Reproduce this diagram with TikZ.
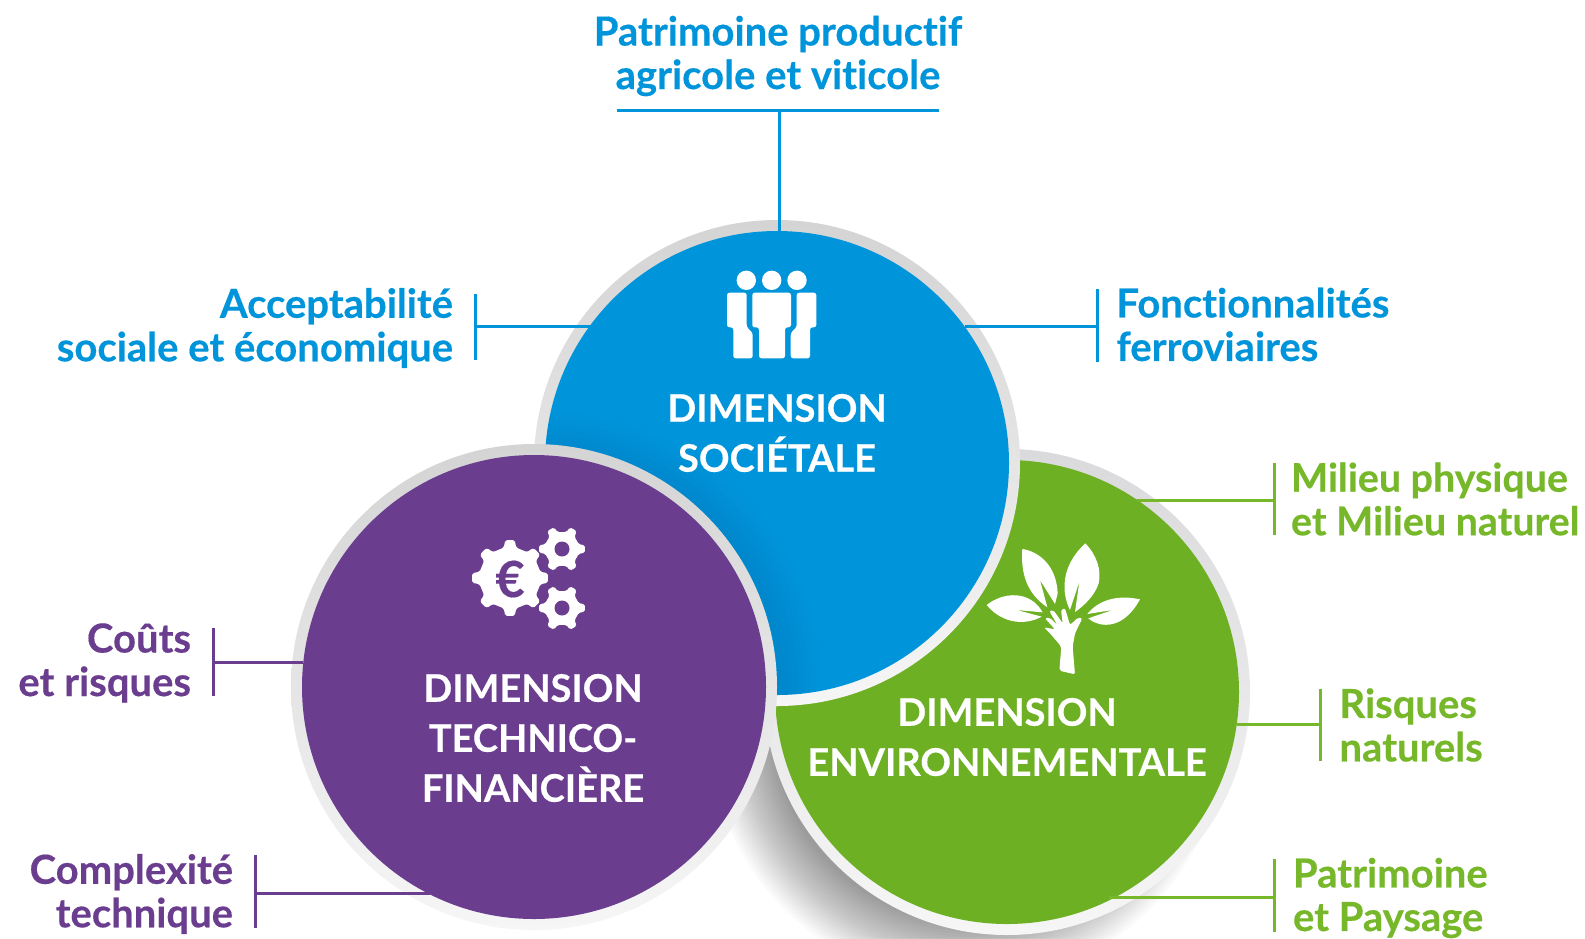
\documentclass[tikz,border=0pt]{standalone}
\usepackage{fontspec}
\setmainfont{Lato}[Ligatures=NoCommon,BoldFeatures={FakeBold=0.35}]
\usetikzlibrary{calc}
\definecolor{cblue}{HTML}{0095DA}
\definecolor{cpurple}{HTML}{6A3D8F}
\definecolor{cgreen}{HTML}{6EB023}
\definecolor{cgreentxt}{HTML}{76B82A}
\definecolor{ringa}{HTML}{D4D4D4}
\definecolor{ringb}{HTML}{DADADC}
\definecolor{ringw}{HTML}{F6F6F7}
\tikzset{
 lab/.style={inner sep=0pt,outer sep=0pt,font=\fontsize{40}{43.5}\selectfont\bfseries},
 labsmall/.style={inner sep=0pt,outer sep=0pt,font=\fontsize{39.4}{43.5}\selectfont\bfseries},
 dim/.style={inner sep=0pt,outer sep=0pt,text=white,align=center,font=\fontsize{38}{50}\selectfont\bfseries},
 conn/.style={line width=3pt},
}
\newcommand{\gearshape}[6]{% cx cy n ro ri rot
 \fill[white,rounded corners=1.6pt,shift={(#1,#2)},rotate=#6]
 (0:#4)
 \foreach \k in {1,...,#3}{
  -- ({(\k-1)*360/#3+0.16*360/#3}:#4)
  -- ({(\k-1)*360/#3+0.26*360/#3}:#5)
  -- ({(\k-1)*360/#3+0.74*360/#3}:#5)
  -- ({(\k-1)*360/#3+0.84*360/#3}:#4)
  -- ({\k*360/#3}:#4)
 } -- cycle;
}
\begin{document}
\begin{tikzpicture}[x=1pt,y=-1pt]
\useasboundingbox (0,0) rectangle (1585,938);
\fill[white] (0,0) rectangle (1585,938);

% centres
\coordinate (cb) at (777,463);
\coordinate (cp) at (534,687);
\coordinate (cg) at (1007,692);

% drop shadow under the green circle
\begin{scope}
 \clip (0,0) rectangle (1585,938);
 \foreach \r in {195,198,...,258}{
  \fill[black,opacity=.02] ($(cg)+(-40,35)$) circle[radius=\r];
 }
\end{scope}

% green
\shade[shading angle=-60,top color=ringb,middle color=ringb!60!ringw,bottom color=ringw] (cg) circle[radius=243];
\fill[cgreen] (cg) circle[radius=232];
% blue
\shade[shading angle=40,top color=ringa,middle color=ringa!55!ringw,bottom color=ringw] (cb) circle[radius=243];
\fill[cblue] (cb) circle[radius=232];
% soft shade cast on the blue by the purple disc
\begin{scope}
 \clip (cb) circle[radius=232];
 \foreach \r in {244,250,...,280}{
  \fill[black,opacity=.009] ($(cp)+(8,4)$) circle[radius=\r];
 }
\end{scope}
% purple
\shade[shading angle=40,top color=ringa,middle color=ringa!80!ringw,bottom color=ringw] (cp) circle[radius=243];
\fill[cpurple] (cp) circle[radius=232];

% people icon
\begin{scope}[white]
 \fill (746.3,280.3) circle[radius=9.7];
 \fill (771.7,280.3) circle[radius=9.7];
 \fill (797,280.3) circle[radius=9.7];
 \fill[rounded corners=2.5pt] (752.3,292.7) -- (791,292.7) -- (791,327.3) -- (785,327.3) -- (785,358.3) -- (759,358.3) -- (759,327.3) -- (752.3,327.3) -- cycle;
 \fill[rounded corners=2.5pt] (727,292.7) -- (746.7,292.7) -- (746.7,327) -- (752.7,333) -- (752.7,358.3) -- (733.3,358.3) -- (733.3,327.3) -- (727,327.3) -- cycle;
 \fill[rounded corners=2.5pt] (816.3,292.7) -- (796.7,292.7) -- (796.7,327) -- (790.7,333) -- (790.7,358.3) -- (810,358.3) -- (810,327.3) -- (816.3,327.3) -- cycle;
\end{scope}

% gears icon
\gearshape{510}{578}{8}{38}{31}{0}
\gearshape{562}{549}{6}{23}{17.5}{0}
\gearshape{562}{608}{6}{23}{17.5}{0}
\fill[cpurple] (562,549) circle[radius=7.5];
\fill[cpurple] (562,608) circle[radius=7.5];
\node[inner sep=0pt,text=cpurple,font=\fontsize{50}{50}\selectfont\bfseries] (euro) at (510,579) {€};

% tree icon
\begin{scope}[shift={(960,530)},x=.3333pt,y=-.3333pt,white]
 \fill (187,57) .. controls (240,65) and (290,110) .. (293,190) -- (285,222) -- (240,150) -- (262,232) .. controls (215,200) and (180,150) .. (187,57) -- cycle;
 \fill (376,40) .. controls (410,75) and (425,120) .. (416,160) .. controls (405,195) and (375,225) .. (345,246) -- (358,155) -- (330,240) .. controls (305,190) and (300,110) .. (376,40) -- cycle;
 \fill (80,225) .. controls (130,185) and (210,180) .. (248,247) -- (170,240) -- (245,260) .. controls (200,285) and (130,285) .. (80,225) -- cycle;
 \fill (540,208) .. controls (480,195) and (420,205) .. (382,252) -- (458,240) -- (385,265) .. controls (420,295) and (490,300) .. (540,208) -- cycle;
 \fill[rounded corners=2pt] (298,422) -- (304,350) -- (270,310) -- (252,292) -- (285,298) -- (255,265) -- (268,262) -- (292,285) -- (268,243) -- (280,240) -- (308,280) -- (303,238) -- (315,235) -- (330,285) -- (355,262) -- (367,265) -- (345,310) -- (338,350) -- (345,433) -- cycle;
\end{scope}

% circle titles
\node[dim] (tb) at (777,433) {DIMENSION\\SOCIÉTALE};
\node[dim] (tp) at (533,738) {DIMENSION\\TECHNICO-\\FINANCIÈRE};
\node[dim] (tg) at (1007,737) {DIMENSION\\ENVIRONNEMENTALE};

% outside labels
\node[lab,text=cblue,align=center] (l1) at (778,56) {Patrimoine productif\\agricole et viticole};
\node[lab,text=cblue,align=right,anchor=east] (l2) at (453,328) {Acceptabilité\\sociale et économique};
\node[lab,text=cblue,align=left,anchor=west] (l3) at (1116.5,324.5) {Fonctionnalités\\ferroviaires};
\node[labsmall,text=cgreentxt,align=left,anchor=west] (l4) at (1291,499) {Milieu physique\\et Milieu naturel};
\node[lab,text=cgreentxt,align=left,anchor=west] (l5) at (1339.5,725) {Risques\\naturels};
\node[lab,text=cgreentxt,align=left,anchor=west] (l6) at (1293,898) {Patrimoine\\et Paysage};
\node[lab,text=cpurple,align=right,anchor=east] (l7) at (191,663) {Coûts\\et risques};
\node[lab,text=cpurple,align=right,anchor=east] (l8) at (233,894) {Complexité\\technique};

% connectors
\coordinate (a1) at (617,110.7); \coordinate (a2) at (939,110.7);
\coordinate (a3) at (779,110.7); \coordinate (a4) at (779,231);
\draw[conn,cblue] (a1) -- (a2); \draw[conn,cblue] (a3) -- (a4);
\coordinate (b1) at (475,294); \coordinate (b2) at (475,360);
\coordinate (b3) at (475,326.5); \coordinate (b4) at (591,326.5);
\draw[conn,cblue] (b1) -- (b2); \draw[conn,cblue] (b3) -- (b4);
\coordinate (c1) at (1097,289); \coordinate (c2) at (1097,362);
\coordinate (c3) at (1097,326.5); \coordinate (c4) at (965,326.5);
\draw[conn,cblue] (c1) -- (c2); \draw[conn,cblue] (c3) -- (c4);
\coordinate (d1) at (1274,463); \coordinate (d2) at (1274,535);
\coordinate (d3) at (1274,500); \coordinate (d4) at (1137,500);
\draw[conn,cgreentxt] (d1) -- (d2); \draw[conn,cgreentxt] (d3) -- (d4);
\coordinate (e1) at (1320,689); \coordinate (e2) at (1320,761);
\coordinate (e3) at (1320,724); \coordinate (e4) at (1237,724);
\draw[conn,cgreentxt] (e1) -- (e2); \draw[conn,cgreentxt] (e3) -- (e4);
\coordinate (f1) at (1274,859); \coordinate (f2) at (1274,932);
\coordinate (f3) at (1274,897); \coordinate (f4) at (1109,897);
\draw[conn,cgreentxt] (f1) -- (f2); \draw[conn,cgreentxt] (f3) -- (f4);
\coordinate (g1) at (213,628); \coordinate (g2) at (213,696);
\coordinate (g3) at (213,662); \coordinate (g4) at (303,662);
\draw[conn,cpurple] (g1) -- (g2); \draw[conn,cpurple] (g3) -- (g4);
\coordinate (h1) at (255,855); \coordinate (h2) at (255,928);
\coordinate (h3) at (255,893); \coordinate (h4) at (430,893);
\draw[conn,cpurple] (h1) -- (h2); \draw[conn,cpurple] (h3) -- (h4);
\end{tikzpicture}
\end{document}
